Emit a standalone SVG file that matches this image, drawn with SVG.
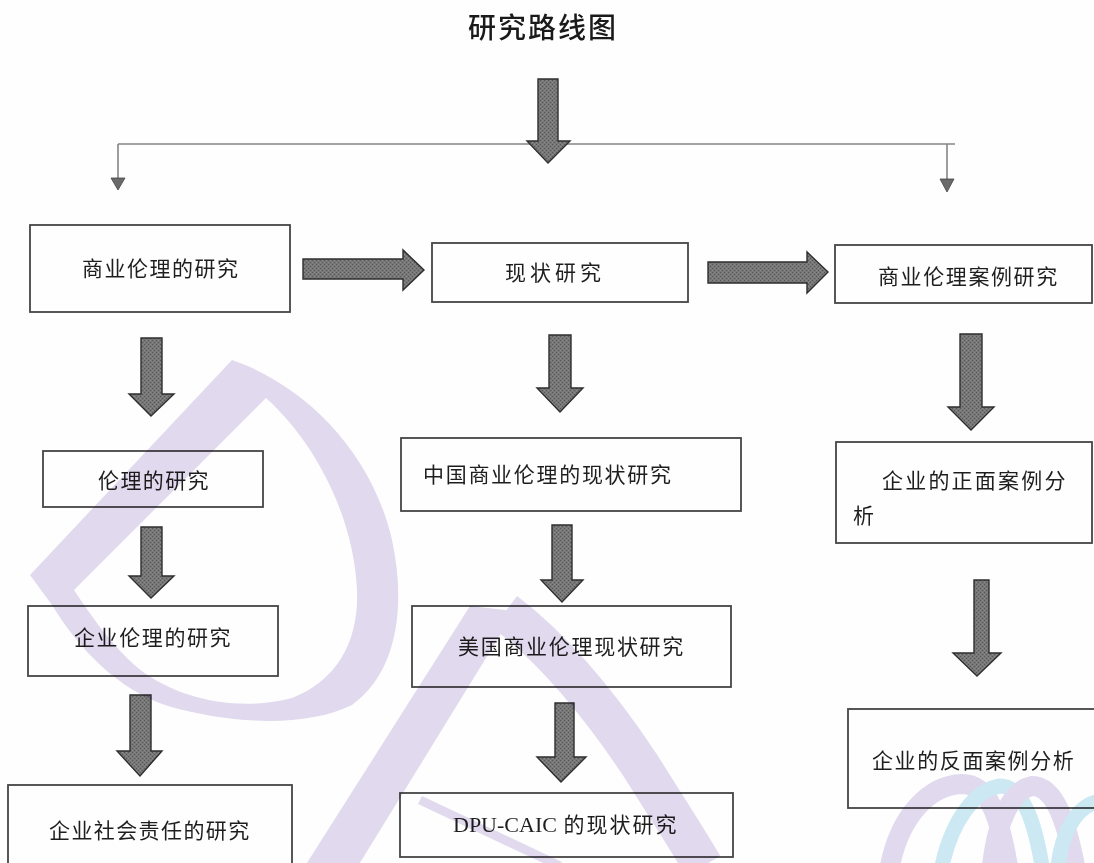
<svg xmlns="http://www.w3.org/2000/svg" width="1094" height="863" viewBox="0 0 1094 863">
<style>
.bg{fill:#fefefe}
.box{fill:none;stroke:#454545;stroke-width:1.8}
.arr{fill:url(#stip);stroke:#2e2e2e;stroke-width:1.4;stroke-linejoin:miter}
.ln{fill:none;stroke:#858585;stroke-width:1.6}
.tip{fill:#6a6a6a;stroke:#444;stroke-width:0.8}
.lbl{font-family:"Noto Sans CJK SC","Noto Sans",sans-serif;font-size:21px;fill:#1e1e1e}
.ttl{font-family:"Noto Sans CJK SC","Noto Sans",sans-serif;font-size:28px;font-weight:500;fill:#1a1a1a;letter-spacing:2px}
.wm{mix-blend-mode:multiply}
.wmp{fill:#e2daee}
.wms{fill:none;stroke:#e2daee}
.wmb{fill:none;stroke:#cdeaf4}
</style>
<defs>
<pattern id="stip" width="4" height="4" patternUnits="userSpaceOnUse">
<rect width="4" height="4" fill="#777"/>
<rect x="0" y="0" width="1" height="1" fill="#555"/>
<rect x="2" y="2" width="1" height="1" fill="#555"/>
<rect x="2" y="0" width="1" height="1" fill="#8a8a8a"/>
<rect x="0" y="2" width="1" height="1" fill="#8a8a8a"/>
</pattern>
</defs>
<rect class="bg" x="0" y="0" width="1094" height="863"/>

<g id="title">
<text class="ttl" x="468" y="38">研究路线图</text>
</g>

<g id="connectors">
<path class="ln" d="M118,144 H955"/>
<path class="ln" d="M118,144 V178"/>
<path class="tip" d="M111,178 H125 L118,190 Z"/>
<path class="ln" d="M947,144 V179"/>
<path class="tip" d="M940,179 H954 L947,192 Z"/>
<path class="arr" d="M538,79 H558 V141 H570 L548,163 L527,141 H538 Z"/>
<path class="arr" d="M303,259 H403 V250 L424,270 L403,290 V279 H303 Z"/>
<path class="arr" d="M708,262 H807 V252 L828,272 L807,293 V283 H708 Z"/>
<path class="arr" d="M141,338 H162 V394 H174 L151,416 L129,394 H141 Z"/>
<path class="arr" d="M141,527 H162 V576 H174 L151,598 L129,576 H141 Z"/>
<path class="arr" d="M130,695 H151 V751 H162 L140,776 L117,751 H130 Z"/>
<path class="arr" d="M549,335 H571 V388 H583 L560,412 L537,388 H549 Z"/>
<path class="arr" d="M552,525 H572 V580 H583 L562,602 L541,580 H552 Z"/>
<path class="arr" d="M555,703 H574 V757 H586 L561,782 L537,757 H555 Z"/>
<path class="arr" d="M960,334 H982 V407 H994 L971,430 L948,407 H960 Z"/>
<path class="arr" d="M974,580 H989 V653 H1001 L977,676 L953,653 H974 Z"/>
</g>

<g id="n1">
<rect class="box" x="30" y="225" width="260" height="87"/>
<text class="lbl" x="82" y="276" letter-spacing="1.5">商业伦理的研究</text>
</g>
<g id="n2">
<rect class="box" x="432" y="243" width="256" height="59"/>
<text class="lbl" x="505" y="280" letter-spacing="4">现状研究</text>
</g>
<g id="n3">
<rect class="box" x="835" y="245" width="257" height="58"/>
<text class="lbl" x="878" y="284" letter-spacing="1.6">商业伦理案例研究</text>
</g>
<g id="n4">
<rect class="box" x="43" y="451" width="220" height="56"/>
<text class="lbl" x="98" y="488" letter-spacing="1.4">伦理的研究</text>
</g>
<g id="n5">
<rect class="box" x="28" y="606" width="250" height="70"/>
<text class="lbl" x="74" y="645" letter-spacing="1.6">企业伦理的研究</text>
</g>
<g id="n6">
<rect class="box" x="8" y="785" width="284" height="95"/>
<text class="lbl" x="49" y="838" letter-spacing="1.4">企业社会责任的研究</text>
</g>
<g id="n7">
<rect class="box" x="401" y="438" width="340" height="73"/>
<text class="lbl" x="423" y="482" letter-spacing="1.7">中国商业伦理的现状研究</text>
</g>
<g id="n8">
<rect class="box" x="412" y="606" width="319" height="81"/>
<text class="lbl" x="458" y="654" letter-spacing="1.7">美国商业伦理现状研究</text>
</g>
<g id="n9">
<rect class="box" x="400" y="793" width="333" height="64"/>
<text class="lbl" x="453" y="832"><tspan font-family="Liberation Serif, serif" font-size="22">DPU-CAIC</tspan><tspan letter-spacing="2"> 的现状研究</tspan></text>
</g>
<g id="n10">
<rect class="box" x="836" y="442" width="256" height="101"/>
<text class="lbl" x="882" y="488" letter-spacing="2.2">企业的正面案例分</text>
<text class="lbl" x="853" y="523">析</text>
</g>
<g id="n11">
<rect class="box" x="848" y="709" width="252" height="99"/>
<text class="lbl" x="872" y="768" letter-spacing="1.6">企业的反面案例分析</text>
</g>

<g id="watermark" class="wm">
<path class="wmp" fill-rule="evenodd" d="M232,360 C305,385 372,452 392,540 C406,605 398,672 352,705 C305,728 230,724 168,706 C118,690 78,648 52,605 L30,575 Z M266,398 C318,445 354,520 357,590 C359,640 338,680 292,698 C240,712 178,700 138,668 C112,646 92,617 74,590 Z"/>
<path class="wmp" d="M470,606 L515,611 L358,866 L305,866 Z"/>
<path class="wms" stroke-width="40" d="M505,612 C555,650 600,705 640,765 C665,805 688,840 703,866"/>
<path class="wms" stroke-width="9" d="M420,800 Q480,828 560,866"/>
<path class="wms" stroke-width="20" d="M890,866 C900,815 930,785 962,784 C990,784 1000,820 1008,866"/>
<path class="wmb" stroke-width="15" d="M942,866 C952,820 975,790 1000,786 C1025,786 1036,830 1042,866"/>
<path class="wms" stroke-width="20" d="M992,866 C997,820 1012,790 1032,786 C1057,786 1068,830 1075,866"/>
<path class="wmb" stroke-width="15" d="M1058,866 C1062,832 1076,808 1096,802"/>
</g>
</svg>
